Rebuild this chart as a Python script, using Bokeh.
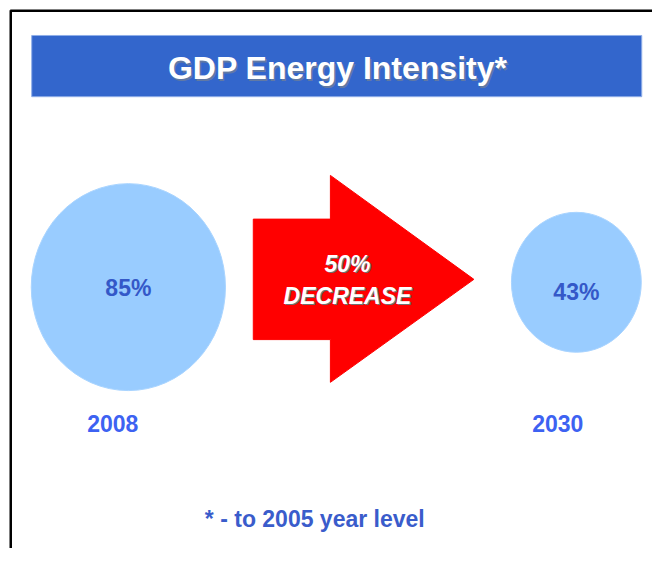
from bokeh.plotting import figure
from bokeh.models import Range1d, ColumnDataSource
from bokeh.core.properties import value
from bokeh.embed import file_html
from bokeh.resources import INLINE

# ---- data ----
title = "GDP Energy Intensity*"
years = ["2008", "2030"]
intensity = [85, 43]            # % of 2005 level
change_pct = [50]
change_word = ["DECREASE"]
footnote = "* - to 2005 year level"

# ---- layout (reference pixel coordinates, 668 x 564) ----
W, H = 652, 548
RW, RH = 668, 564
cx = [131, 590]
cy = [295, 290]
cw = [199, 133]
ch = [213, 144]
val_y = [296, 300]
year_x = [115, 571]
year_y = 435

FONT = "Liberation Sans"

p = figure(width=W, height=H, output_backend="svg", toolbar_location=None,
           x_range=Range1d(0, RW), y_range=Range1d(RH, 0),
           x_axis_type=None, y_axis_type=None, min_border=0,
           outline_line_color=None, background_fill_color="white",
           border_fill_color="white")
p.xgrid.visible = False
p.ygrid.visible = False

# frame lines
p.segment(x0=[10.5, 10], y0=[10, 10.5], x1=[10.5, RW], y1=[RH, 10.5],
          line_color="black", line_width=2.5)

# title bar
p.quad(left=[32], right=[657], top=[36], bottom=[99],
       fill_color="#3366CC", line_color="#8FAEE8", line_width=1)
p.text(x=[347], y=[71.5], text=[title], text_align="center", text_baseline="middle",
       text_font=value(FONT), text_font_style="bold", text_font_size="32px",
       text_color="#6F7F99", text_alpha=0.8)
p.text(x=[345.5], y=[69.5], text=[title], text_align="center", text_baseline="middle",
       text_font=value(FONT), text_font_style="bold", text_font_size="32px",
       text_color="white")

# circles
src = ColumnDataSource(dict(x=cx, y=cy, w=cw, h=ch, vy=val_y,
                            lab=[f"{v}%" for v in intensity],
                            yx=year_x, year=years))
p.ellipse(x="x", y="y", width="w", height="h", source=src,
          fill_color="#99CCFF", line_color="#A9D4FF", line_width=1)
p.text(x="x", y="vy", text="lab", source=src, text_align="center",
       text_baseline="middle", text_font=value(FONT), text_font_style="bold",
       text_font_size="23px", text_color="#3458C8")
p.text(x="yx", y=year_y, text="year", source=src, text_align="center",
       text_baseline="middle", text_font=value(FONT), text_font_style="bold",
       text_font_size="23px", text_color="#3D62F2")

# arrow
sl, sr, st, sb = 259, 338, 225, 349
ht, hb, tip, tipy = 180, 393, 485, 287
p.patch(x=[sl, sr, sr, tip, sr, sr, sl], y=[st, st, ht, tipy, hb, sb, sb],
        fill_color="#FF0000", line_color="#FF0000")
arrow_txt = [f"{change_pct[0]}%", change_word[0]]
p.text(x=[357, 357], y=[272.5, 305.5], text=arrow_txt, text_align="center",
       text_baseline="middle", text_font=value(FONT), text_font_style="bold italic",
       text_font_size="23px", text_color="#707070")
p.text(x=[355.5, 355.5], y=[271, 304], text=arrow_txt, text_align="center",
       text_baseline="middle", text_font=value(FONT), text_font_style="bold italic",
       text_font_size="23px", text_color="white")

# footnote
p.text(x=[322], y=[534], text=[footnote], text_align="center", text_baseline="middle",
       text_font=value(FONT), text_font_style="bold", text_font_size="23px",
       text_color="#3A5CCB")

open("out.html", "w").write(file_html(p, INLINE))
